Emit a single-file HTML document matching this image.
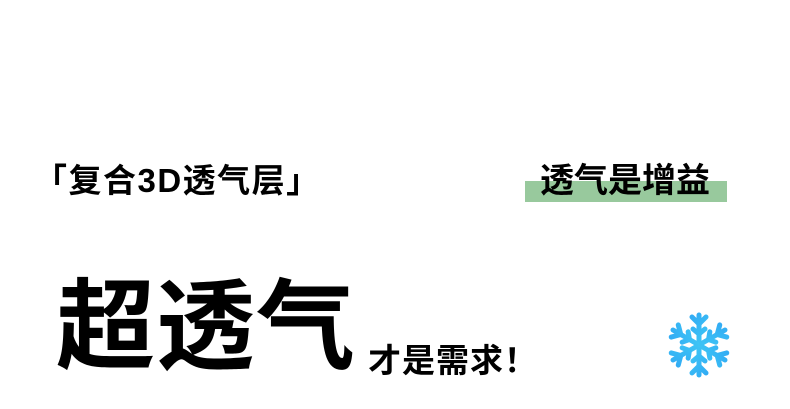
<!DOCTYPE html>
<html><head><meta charset="utf-8"><style>
body{margin:0;width:790px;height:409px;background:#fff;position:relative;overflow:hidden;font-family:"Liberation Sans","Noto Sans CJK SC",sans-serif;font-weight:bold;color:#000}
.t{position:absolute;white-space:nowrap;line-height:1}
</style></head><body>
<div class="t" style="left:34px;top:164px;font-size:33px;letter-spacing:1.5px">「复合3D透气层」</div>
<div style="position:absolute;left:525px;top:181px;width:202px;height:21px;background:#98c99d"></div>
<div class="t" style="left:540px;top:164px;font-size:34px;letter-spacing:0px">透气是增益</div>
<div class="t" style="left:56px;top:277px;font-size:99px;letter-spacing:1px">超透气</div>
<div class="t" style="left:368px;top:344px;font-size:33px;letter-spacing:1px">才是需求！</div>
<svg style="position:absolute;left:668px;top:312px" width="62" height="66" viewBox="-31 -33 62 66">
<defs><linearGradient id="g" gradientUnits="userSpaceOnUse" x1="-30" y1="-30" x2="30" y2="30"><stop offset="0" stop-color="#2a9df4"/><stop offset="0.5" stop-color="#3ec4f5"/><stop offset="1" stop-color="#1e88e5"/></linearGradient></defs>
<g stroke="url(#g)" stroke-width="5" stroke-linecap="round" fill="none">
<g id="a"><line x1="0" y1="0" x2="0" y2="-30"/><polyline points="-7,-28 0,-21 7,-28"/><polyline points="-6,-16 0,-11 6,-16"/></g>
<use href="#a" transform="rotate(60)"/><use href="#a" transform="rotate(120)"/><use href="#a" transform="rotate(180)"/><use href="#a" transform="rotate(240)"/><use href="#a" transform="rotate(300)"/>
</g></svg>
</body></html>
